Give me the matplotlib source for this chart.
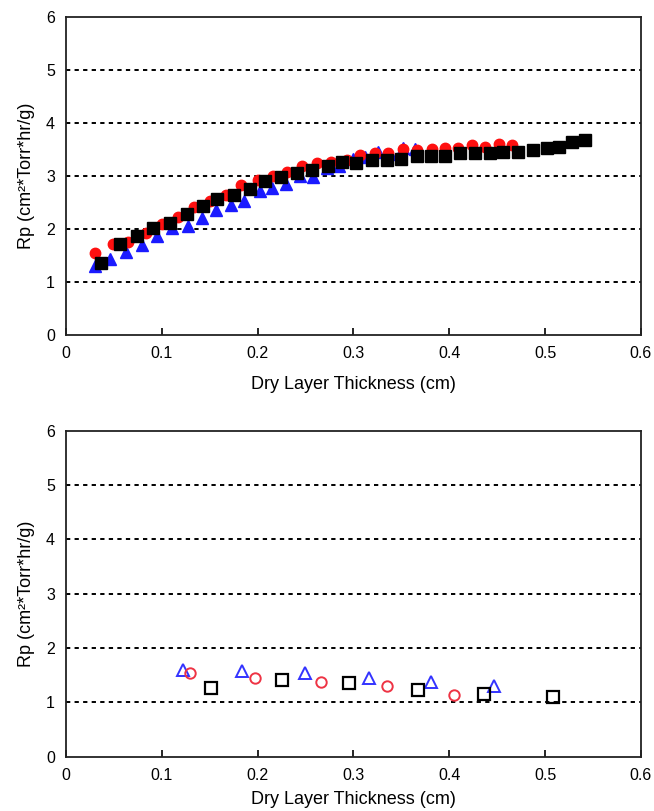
import matplotlib

matplotlib.use("Agg")
import matplotlib.pyplot as plt

plt.rcParams["font.family"] = ["Liberation Sans", "DejaVu Sans"]

# top panel: full drying runs
red_x = [0.030, 0.049, 0.065, 0.083, 0.100, 0.117, 0.134, 0.150, 0.167, 0.183,
         0.200, 0.216, 0.231, 0.246, 0.262, 0.277, 0.293, 0.307, 0.322, 0.336,
         0.352, 0.366, 0.382, 0.395, 0.409, 0.424, 0.437, 0.452, 0.465]
red_y = [1.55, 1.72, 1.76, 1.92, 2.09, 2.22, 2.41, 2.53, 2.64, 2.83,
         2.92, 3.00, 3.07, 3.18, 3.24, 3.27, 3.31, 3.40, 3.44, 3.43,
         3.50, 3.49, 3.50, 3.53, 3.53, 3.58, 3.55, 3.60, 3.58]

blue_x = [0.030, 0.046, 0.063, 0.079, 0.095, 0.111, 0.127, 0.142, 0.157, 0.172,
          0.186, 0.202, 0.215, 0.230, 0.244, 0.258, 0.272, 0.285, 0.300, 0.312,
          0.326, 0.338, 0.352, 0.364]
blue_y = [1.30, 1.43, 1.57, 1.69, 1.86, 2.01, 2.06, 2.20, 2.36, 2.45,
          2.53, 2.72, 2.77, 2.85, 3.00, 2.98, 3.15, 3.18, 3.33, 3.36,
          3.45, 3.42, 3.52, 3.50]

black_x = [0.036, 0.056, 0.074, 0.091, 0.109, 0.126, 0.143, 0.158, 0.175, 0.192,
           0.208, 0.224, 0.241, 0.257, 0.273, 0.288, 0.303, 0.319, 0.335, 0.350,
           0.366, 0.381, 0.396, 0.411, 0.427, 0.442, 0.456, 0.472, 0.487, 0.502,
           0.515, 0.528, 0.542]
black_y = [1.35, 1.71, 1.87, 2.01, 2.12, 2.28, 2.43, 2.56, 2.65, 2.76,
           2.91, 2.99, 3.05, 3.11, 3.18, 3.26, 3.25, 3.30, 3.30, 3.33,
           3.38, 3.38, 3.38, 3.43, 3.43, 3.43, 3.45, 3.45, 3.49, 3.53,
           3.55, 3.65, 3.68]

# bottom panel: sparse points
tri_x = [0.122, 0.184, 0.249, 0.316, 0.381, 0.447]
tri_y = [1.60, 1.57, 1.54, 1.45, 1.37, 1.30]
circ_x = [0.129, 0.197, 0.266, 0.335, 0.405]
circ_y = [1.54, 1.45, 1.38, 1.30, 1.14]
sq_x = [0.151, 0.225, 0.295, 0.367, 0.436, 0.508]
sq_y = [1.26, 1.42, 1.36, 1.23, 1.16, 1.10]

x_ticks = [0, 0.1, 0.2, 0.3, 0.4, 0.5, 0.6]
x_ticklabels = ["0", "0.1", "0.2", "0.3", "0.4", "0.5", "0.6"]
y_ticks = [0, 1, 2, 3, 4, 5, 6]
grid_levels = [1, 2, 3, 4, 5]

fig = plt.figure(figsize=(6.54, 8.11), dpi=100)
ax1 = fig.add_axes([0.101, 0.587, 0.879, 0.392])
ax2 = fig.add_axes([0.101, 0.067, 0.879, 0.402])


def style(ax, label_pad):
    ax.set_xlim(0, 0.6)
    ax.set_ylim(0, 6)
    ax.set_xticks(x_ticks)
    ax.set_xticklabels(x_ticklabels)
    ax.set_yticks(y_ticks)
    for lvl in grid_levels:
        ax.axhline(lvl, color="black", linestyle=(0, (2.2, 2.2)), linewidth=1.4, zorder=1)
    ax.tick_params(axis="x", direction="in", length=5, width=1.2, pad=8, labelsize=11.5)
    ax.tick_params(axis="y", direction="in", length=0, pad=8, labelsize=11.5)
    for sp in ax.spines.values():
        sp.set_linewidth(1.3)
        sp.set_color("#222222")
    ax.set_xlabel("Dry Layer Thickness (cm)", fontsize=13, labelpad=label_pad)
    ax.set_ylabel("Rp (cm²*Torr*hr/g)", fontsize=13, labelpad=8)


style(ax1, 11)
ax1.plot(blue_x, blue_y, linestyle="none", marker="^", markersize=9,
         color="#1a1aff", markeredgecolor="#1a1aff", zorder=3)
ax1.plot(red_x, red_y, linestyle="none", marker="o", markersize=7.5,
         color="#ff1010", markeredgecolor="#ff1010", zorder=4)
ax1.plot(black_x, black_y, linestyle="none", marker="s", markersize=8.3,
         color="black", zorder=5)

style(ax2, 6)
ax2.plot(tri_x, tri_y, linestyle="none", marker="^", markersize=9,
         markerfacecolor="none", markeredgecolor="#3333ff", markeredgewidth=1.4, zorder=3)
ax2.plot(circ_x, circ_y, linestyle="none", marker="o", markersize=7.5,
         markerfacecolor="none", markeredgecolor="#ee3344", markeredgewidth=1.4, zorder=3)
ax2.plot(sq_x, sq_y, linestyle="none", marker="s", markersize=8,
         markerfacecolor="none", markeredgecolor="black", markeredgewidth=1.6, zorder=3)

fig.savefig("out.png", dpi=100)
